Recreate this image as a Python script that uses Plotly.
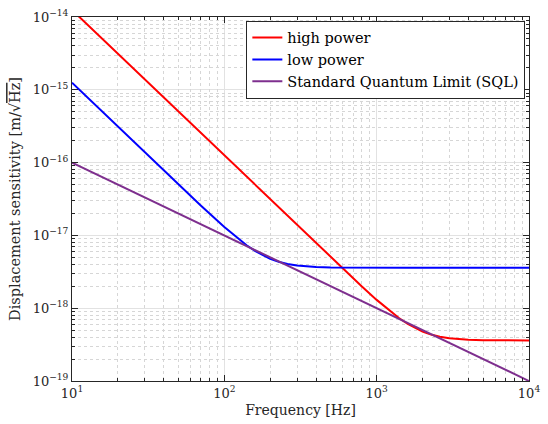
import plotly.graph_objects as go

freq_hz = [10, 15, 20, 30, 40, 50, 70, 100, 120, 140, 160, 180, 200, 230, 260, 300, 350, 400, 500, 600,
           800, 1000, 1200, 1400, 1600, 1800, 2000, 2300, 2600, 3000, 3500, 4000, 5000, 6000, 8000, 10000]

high_power = [1.25e-14, 5.556e-15, 3.125e-15, 1.389e-15, 7.8125e-16, 5.0e-16, 2.551e-16, 1.25e-16,
              8.681e-17, 6.378e-17, 4.883e-17, 3.858e-17, 3.125e-17, 2.363e-17, 1.849e-17, 1.389e-17,
              1.021e-17, 7.821e-18, 5.013e-18, 3.491e-18, 1.986e-18, 1.301e-18, 9.398e-19, 7.324e-19,
              6.066e-19, 5.277e-19, 4.767e-19, 4.306e-19, 4.047e-19, 3.859e-19, 3.742e-19, 3.684e-19,
              3.635e-19, 3.617e-19, 3.605e-19, 3.602e-19]

low_power = [1.25e-15, 5.556e-16, 3.125e-16, 1.389e-16, 7.821e-17, 5.013e-17, 2.576e-17, 1.301e-17,
             9.398e-18, 7.324e-18, 6.066e-18, 5.277e-18, 4.767e-18, 4.306e-18, 4.047e-18, 3.859e-18,
             3.742e-18, 3.684e-18, 3.635e-18, 3.617e-18, 3.605e-18, 3.602e-18, 3.601e-18, 3.600e-18,
             3.600e-18, 3.600e-18, 3.600e-18, 3.600e-18, 3.600e-18, 3.600e-18, 3.600e-18, 3.600e-18,
             3.600e-18, 3.600e-18, 3.600e-18, 3.600e-18]

sql_freq = [10, 10000]
sql_vals = [1e-16, 1e-19]

x_tickvals = [10, 100, 1000, 10000]
x_ticktext = ["10<sup>1</sup>", "10<sup>2</sup>", "10<sup>3</sup>", "10<sup>4</sup>"]
y_tickvals = [1e-19, 1e-18, 1e-17, 1e-16, 1e-15, 1e-14]
y_ticktext = ["10<sup>\u221219</sup>", "10<sup>\u221218</sup>", "10<sup>\u221217</sup>",
              "10<sup>\u221216</sup>", "10<sup>\u221215</sup>", "10<sup>\u221214</sup>"]

x_minor = [m * 10 ** e for e in range(1, 4) for m in range(2, 10)]
y_minor = [m * 10.0 ** e for e in range(-19, -14) for m in range(2, 10)]

FONT = "DejaVu Serif"
AX = "#262626"

fig = go.Figure()
# invisible carrier so the minor-grid overlay axes are drawn
fig.add_trace(go.Scatter(x=sql_freq, y=sql_vals, mode="lines", xaxis="x2", yaxis="y2",
                         line=dict(color="rgba(0,0,0,0)", width=0), showlegend=False, hoverinfo="skip"))
fig.add_trace(go.Scatter(x=freq_hz, y=high_power, mode="lines", name="high power",
                         line=dict(color="#ff0000", width=2)))
fig.add_trace(go.Scatter(x=freq_hz, y=low_power, mode="lines", name="low power",
                         line=dict(color="#0000ff", width=2)))
fig.add_trace(go.Scatter(x=sql_freq, y=sql_vals, mode="lines", name="Standard Quantum Limit (SQL)",
                         line=dict(color="#7E2F8E", width=2)))

major = dict(
    type="log", showline=True, linecolor=AX, linewidth=1, mirror="allticks",
    ticks="inside", ticklen=6, tickcolor=AX, showgrid=True, gridcolor="#e2e2e2", gridwidth=1,
    tickfont=dict(family=FONT, size=13, color=AX), zeroline=False, ticklabeloverflow="allow",
)
minor = dict(
    type="log", showline=False, mirror="allticks", ticks="inside", ticklen=3, tickcolor=AX,
    showgrid=True, gridcolor="#d6d6d6", gridwidth=1, griddash="dot", showticklabels=False,
    zeroline=False,
)

fig.update_layout(
    width=548, height=424,
    margin=dict(l=72, r=8, t=11, b=43),
    paper_bgcolor="white", plot_bgcolor="rgba(0,0,0,0)",
    xaxis=dict(range=[1, 4], tickvals=x_tickvals, ticktext=x_ticktext,
               title=dict(text="Frequency [Hz]", font=dict(family=FONT, size=14, color=AX), standoff=5),
               **major),
    yaxis=dict(range=[-19, -14], tickvals=y_tickvals, ticktext=y_ticktext,
               title=dict(text="Displacement sensitivity [m/\u221a<span style='text-decoration:overline'>Hz</span>]",
                          font=dict(family=FONT, size=14.5, color=AX), standoff=8),
               **major),
    xaxis2=dict(range=[1, 4], tickvals=x_minor, overlaying="x", anchor="y2", side="bottom", **minor),
    yaxis2=dict(range=[-19, -14], tickvals=y_minor, overlaying="y", anchor="x2", side="left", **minor),
    showlegend=True,
    legend=dict(x=0.992, y=0.99, xanchor="right", yanchor="top",
                bgcolor="white", bordercolor=AX, borderwidth=1,
                font=dict(family=FONT, size=14.5, color="black"),
                tracegroupgap=0, itemwidth=30),
)

fig.write_html("out.html")
